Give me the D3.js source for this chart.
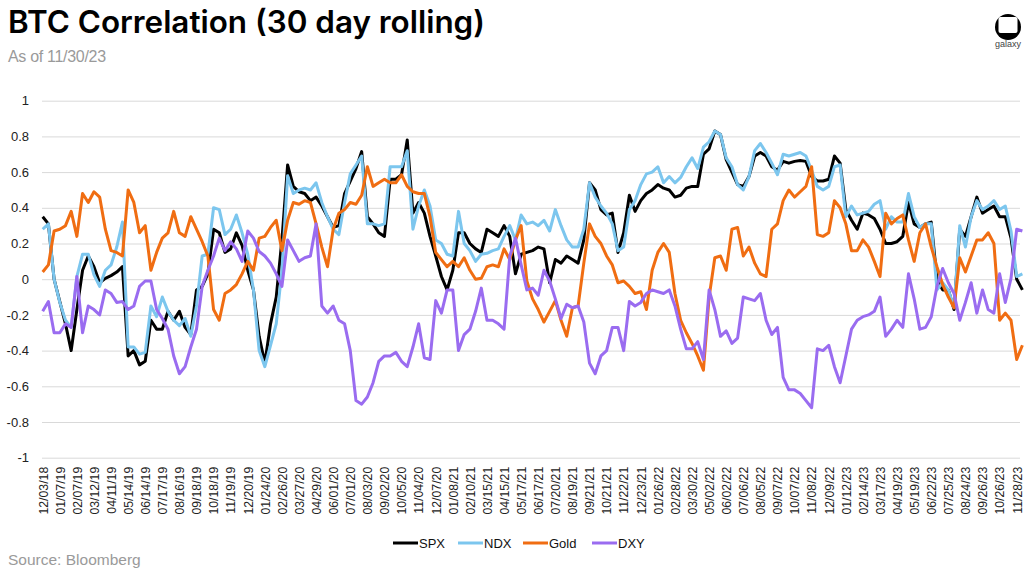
<!DOCTYPE html>
<html>
<head>
<meta charset="utf-8">
<script src="https://cdn.jsdelivr.net/npm/d3@7"></script>
<style>
  body { margin: 0; background: #fff; }
  svg { display: block; font-family: "Liberation Sans", Arial, sans-serif; }
</style>
</head>
<body>
<script>
// tick labels, one every 22 trading days
const tickLabels = [
  '12/03/18','01/07/19','02/07/19','03/12/19','04/11/19','05/14/19','06/14/19','07/17/19','08/16/19','09/18/19',
  '10/18/19','11/19/19','12/20/19','01/24/20','02/26/20','03/27/20','04/29/20','06/01/20','07/01/20','08/03/20',
  '09/02/20','10/05/20','11/04/20','12/07/20','01/08/21','02/10/21','03/15/21','04/15/21','05/17/21','06/17/21',
  '07/20/21','08/19/21','09/21/21','10/21/21','11/22/21','12/23/21','01/26/22','02/28/22','03/30/22','05/02/22',
  '06/02/22','07/06/22','08/05/22','09/07/22','10/07/22','11/08/22','12/09/22','01/12/23','02/14/23','03/17/23',
  '04/19/23','05/19/23','06/22/23','07/25/23','08/24/23','09/26/23','10/26/23','11/28/23'
];
const samplesPerTick = 3; // roughly weekly readings

const spx = [
  0.35, 0.31, 0.0, -0.125, -0.25, -0.40, -0.17, 0.05, 0.13, 0.07,
  -0.02, 0.005, 0.02, 0.04, 0.07, -0.43, -0.40, -0.48, -0.46, -0.23,
  -0.28, -0.28, -0.18, -0.23, -0.18, -0.27, -0.31, -0.06, -0.04, 0.03,
  0.28, 0.26, 0.15, 0.17, 0.26, 0.19, 0.05, -0.06, -0.32, -0.47,
  -0.25, -0.10, 0.22, 0.64, 0.52, 0.49, 0.48, 0.44, 0.46, 0.41,
  0.35, 0.29, 0.30, 0.48, 0.55, 0.62, 0.715, 0.35, 0.31, 0.26,
  0.24, 0.56, 0.56, 0.585, 0.78, 0.37, 0.43, 0.37, 0.24, 0.13,
  0.015, -0.06, 0.05, 0.26, 0.26, 0.20, 0.17, 0.15, 0.28, 0.26,
  0.24, 0.30, 0.24, 0.03, 0.14, 0.15, 0.16, 0.18, 0.17, -0.02,
  0.11, 0.09, 0.13, 0.11, 0.09, 0.22, 0.54, 0.50, 0.39, 0.36,
  0.37, 0.15, 0.26, 0.47, 0.38, 0.44, 0.48, 0.50, 0.53, 0.51,
  0.50, 0.46, 0.47, 0.51, 0.52, 0.52, 0.70, 0.73, 0.83, 0.81,
  0.67, 0.60, 0.53, 0.52, 0.575, 0.69, 0.71, 0.69, 0.63, 0.61,
  0.66, 0.65, 0.66, 0.665, 0.66, 0.575, 0.55, 0.55, 0.56, 0.69,
  0.65, 0.39, 0.33, 0.28, 0.37, 0.36, 0.34, 0.28, 0.20, 0.20,
  0.21, 0.24, 0.43, 0.31, 0.29, 0.31, 0.32, 0.0, -0.06, -0.06,
  -0.17, 0.28, 0.24, 0.35, 0.46, 0.37, 0.39, 0.41, 0.35, 0.35,
  0.23, 0.0, -0.06
];

const ndx = [
  0.28, 0.31, 0.0, -0.13, -0.23, -0.27, 0.015, 0.14, 0.14, 0.025,
  -0.04, 0.05, 0.08, 0.18, 0.32, -0.38, -0.38, -0.42, -0.41, -0.15,
  -0.21, -0.10, -0.18, -0.23, -0.26, -0.22, -0.32, -0.15, 0.13, 0.14,
  0.40, 0.39, 0.25, 0.28, 0.36, 0.26, 0.14, -0.06, -0.40, -0.49,
  -0.37, -0.25, 0.05, 0.58, 0.48, 0.50, 0.51, 0.50, 0.54, 0.43,
  0.35, 0.28, 0.25, 0.43, 0.59, 0.64, 0.69, 0.31, 0.31, 0.30,
  0.31, 0.63, 0.63, 0.63, 0.72, 0.28, 0.41, 0.50, 0.41, 0.22,
  0.20, 0.14, 0.13, 0.38, 0.20, 0.16, 0.10, 0.14, 0.145, 0.16,
  0.17, 0.24, 0.30, 0.22, 0.36, 0.31, 0.32, 0.30, 0.33, 0.27,
  0.39, 0.30, 0.22, 0.18, 0.18, 0.28, 0.54, 0.46, 0.41, 0.37,
  0.31, 0.16, 0.18, 0.39, 0.44, 0.53, 0.59, 0.60, 0.63, 0.54,
  0.575, 0.54, 0.57, 0.63, 0.68, 0.62, 0.74, 0.77, 0.83, 0.81,
  0.68, 0.63, 0.53, 0.50, 0.575, 0.72, 0.76, 0.71, 0.65, 0.585,
  0.70, 0.69, 0.70, 0.71, 0.69, 0.61, 0.52, 0.50, 0.52, 0.63,
  0.64, 0.35, 0.41, 0.36, 0.37, 0.38, 0.42, 0.44, 0.28, 0.35,
  0.32, 0.32, 0.48, 0.35, 0.29, 0.31, 0.31, -0.06, -0.02, -0.06,
  -0.16, 0.30, 0.18, 0.35, 0.44, 0.39, 0.41, 0.44, 0.39, 0.41,
  0.27, 0.015, 0.03
];

const gold = [
  0.04, 0.08, 0.27, 0.28, 0.30, 0.38, 0.24, 0.48, 0.43, 0.49,
  0.46, 0.28, 0.16, 0.15, 0.13, 0.50, 0.43, 0.26, 0.30, 0.05,
  0.15, 0.23, 0.26, 0.38, 0.26, 0.24, 0.35, 0.28, 0.21, 0.13,
  -0.17, -0.23, -0.08, -0.06, -0.03, 0.03, 0.10, 0.05, 0.23, 0.24,
  0.29, 0.33, 0.16, 0.33, 0.43, 0.42, 0.44, 0.43, 0.31, 0.18,
  0.07, 0.28, 0.37, 0.39, 0.43, 0.42, 0.47, 0.63, 0.52, 0.54,
  0.56, 0.54, 0.54, 0.585, 0.52, 0.49, 0.48, 0.48, 0.35, 0.15,
  0.11, 0.07, 0.10, 0.07, 0.12, 0.05, 0.0, 0.005, 0.07, 0.08,
  0.07, 0.17, 0.11, 0.22, 0.30, -0.01, -0.11, -0.17, -0.24, -0.18,
  -0.12, -0.23, -0.32, -0.16, -0.15, 0.09, 0.31, 0.24, 0.20, 0.13,
  0.08, -0.02, -0.01, -0.04, -0.08, -0.07, -0.17, 0.05, 0.15, 0.20,
  0.15, -0.08, -0.23, -0.30, -0.36, -0.43, -0.51, -0.10, 0.12, 0.13,
  0.05, 0.28, 0.29, 0.13, 0.18, 0.09, 0.03, 0.015, 0.28, 0.31,
  0.44, 0.50, 0.46, 0.49, 0.52, 0.63, 0.25, 0.24, 0.26, 0.44,
  0.40, 0.31, 0.16, 0.16, 0.22, 0.18, 0.10, 0.015, 0.37, 0.31,
  0.34, 0.36, 0.22, 0.10, 0.26, 0.31, 0.18, 0.07, -0.03, -0.10,
  -0.16, 0.12, 0.04, 0.13, 0.22, 0.22, 0.26, 0.20, -0.23, -0.19,
  -0.23, -0.45, -0.37
];

const dxy = [
  -0.18, -0.125, -0.30, -0.30, -0.25, -0.27, 0.015, -0.30, -0.15, -0.17,
  -0.20, -0.06, -0.08, -0.13, -0.125, -0.17, -0.15, -0.04, -0.01, -0.01,
  -0.17, -0.22, -0.28, -0.43, -0.53, -0.49, -0.38, -0.28, -0.04, 0.05,
  0.13, 0.23, 0.16, 0.21, 0.17, 0.10, 0.27, 0.23, 0.155, 0.13,
  0.09, 0.03, -0.04, 0.22, 0.16, 0.10, 0.12, 0.13, 0.31, -0.15,
  -0.19, -0.15, -0.23, -0.25, -0.40, -0.68, -0.70, -0.66, -0.58, -0.46,
  -0.43, -0.43, -0.41, -0.46, -0.49, -0.38, -0.25, -0.44, -0.45, -0.12,
  -0.19, -0.06, -0.06, -0.40, -0.31, -0.28, -0.18, -0.05, -0.23, -0.23,
  -0.25, -0.28, 0.13, 0.23, 0.08, -0.06, -0.05, -0.09, 0.05, -0.01,
  -0.11, -0.22, -0.14, -0.16, -0.15, -0.24, -0.47, -0.53, -0.43, -0.40,
  -0.27, -0.27, -0.40, -0.125, -0.15, -0.13, -0.08, -0.06, -0.07, -0.08,
  -0.06, -0.15, -0.28, -0.39, -0.39, -0.35, -0.45, -0.06, -0.17, -0.32,
  -0.29, -0.36, -0.33, -0.10, -0.11, -0.12, -0.08, -0.23, -0.31, -0.27,
  -0.55, -0.62, -0.62, -0.64, -0.68, -0.72, -0.39, -0.40, -0.37, -0.49,
  -0.58, -0.43, -0.28, -0.23, -0.21, -0.20, -0.18, -0.10, -0.32, -0.28,
  -0.23, -0.27, 0.03, -0.11, -0.28, -0.27, -0.21, -0.04, 0.06, -0.02,
  -0.08, -0.23, -0.13, -0.02, -0.19, -0.06, -0.17, -0.19, 0.03, -0.13,
  0.005, 0.28, 0.27
];

const seriesNames = ['SPX', 'NDX', 'Gold', 'DXY'];
const seriesColors = ['#000000', '#7cc6ee', '#f06d12', '#9a6cf0'];
const seriesValues = [spx, ndx, gold, dxy];

const W = 1024, H = 574;
const plot = {left: 42, right: 1020, top: 100.7, bottom: 457.7};

const svg = d3.select('body').append('svg')
  .attr('width', W)
  .attr('height', H)
  .attr('viewBox', [0, 0, W, H]);

// title block
svg.append('text')
  .attr('x', 8).attr('y', 33)
  .attr('textLength', 477).attr('lengthAdjust', 'spacingAndGlyphs')
  .style('font-family', 'Inter, "Noto Sans", sans-serif')
  .style('font-weight', 600)
  .style('font-size', '31px')
  .style('fill', '#000')
  .text('BTC Correlation (30 day rolling)');

svg.append('text')
  .attr('x', 8).attr('y', 62)
  .style('font-size', '16px')
  .style('fill', '#9a9a9a')
  .style('letter-spacing', '-0.3px')
  .text('As of 11/30/23');

// galaxy logo
const logo = svg.append('g').attr('transform', 'translate(1008,27)');
logo.append('circle').attr('r', 13).attr('fill', '#000');
logo.append('rect')
  .attr('x', -9.5).attr('y', -10).attr('width', 19).attr('height', 16)
  .attr('rx', 2).attr('fill', '#fff');
logo.append('text')
  .attr('y', 20)
  .attr('text-anchor', 'middle')
  .style('font-size', '9px')
  .style('fill', '#444')
  .text('galaxy');

const x = d3.scaleLinear()
  .domain([0, (tickLabels.length - 1) * samplesPerTick])
  .range([42.7, 1016.7]);

const y = d3.scaleLinear()
  .domain([-1, 1])
  .range([plot.bottom, plot.top]);

// y gridlines + labels
const yAxis = svg.append('g')
  .attr('transform', `translate(${plot.left},0)`)
  .call(d3.axisLeft(y)
    .tickValues(d3.range(-5, 6).map(d => d / 5))
    .tickSize(-(plot.right - plot.left))
    .tickPadding(13)
    .tickFormat(d => String(+d.toFixed(1))));
yAxis.select('.domain').remove();
yAxis.selectAll('line').attr('stroke', '#d9d9d9');
yAxis.selectAll('text')
  .style('font-size', '13px')
  .style('fill', '#222');

// x tick labels
const xAxis = svg.append('g')
  .attr('transform', `translate(0,${plot.bottom + 4})`)
  .call(d3.axisBottom(x)
    .tickValues(tickLabels.map((d, i) => i * samplesPerTick))
    .tickSize(0)
    .tickFormat((d, i) => tickLabels[i]));
xAxis.select('.domain').remove();
xAxis.selectAll('text')
  .attr('transform', 'rotate(-90)')
  .attr('x', -5)
  .attr('y', 0)
  .attr('dy', '0.35em')
  .style('text-anchor', 'end')
  .style('font-size', '12.3px')
  .style('fill', '#222');

// lines
const line = d3.line()
  .x((d, i) => x(i))
  .y(d => y(d));

svg.append('g')
  .selectAll('path')
  .data(seriesValues)
  .join('path')
    .attr('fill', 'none')
    .attr('stroke', (d, i) => seriesColors[i])
    .attr('stroke-width', 3)
    .attr('stroke-linejoin', 'round')
    .attr('d', line);

// legend
const legendX = [393, 458, 523, 592];
const legend = svg.append('g')
  .selectAll('g')
  .data(seriesNames)
  .join('g')
    .attr('transform', (d, i) => `translate(${legendX[i]},543)`);

legend.append('line')
  .attr('x1', 0).attr('x2', 25)
  .attr('stroke', (d, i) => seriesColors[i])
  .attr('stroke-width', 3);

legend.append('text')
  .attr('x', 26).attr('y', 4.5)
  .style('font-size', '13px')
  .style('fill', '#111')
  .text(d => d);

// source
svg.append('text')
  .attr('x', 8).attr('y', 565)
  .style('font-size', '15.5px')
  .style('fill', '#9a9a9a')
  .text('Source: Bloomberg');
</script>
</body>
</html>
